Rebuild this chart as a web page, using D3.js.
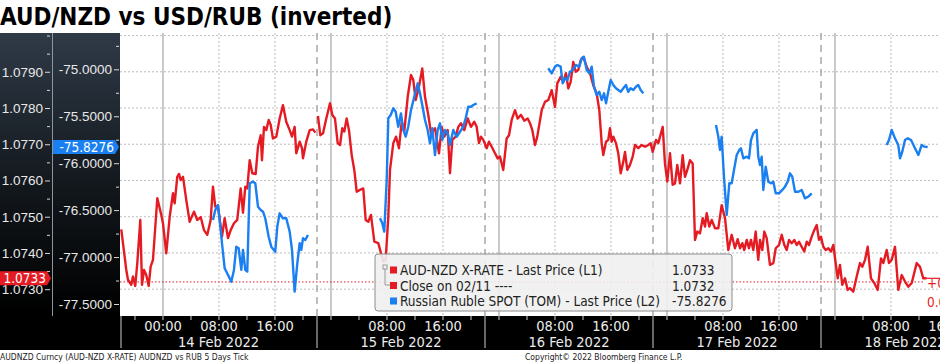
<!DOCTYPE html>
<html>
<head>
<meta charset="utf-8">
<script src="https://cdn.jsdelivr.net/npm/d3@7"></script>
<style>
  body { margin: 0; background: #fff; }
  svg { display: block; font-family: "DejaVu Sans Condensed", "DejaVu Sans", sans-serif; }
</style>
</head>
<body>
<div id="viz"></div>
<script>
const width = 940;
const height = 362;
const margin = {top: 33, right: 0, bottom: 46, left: 120};
const red = '#e51b24';
const blue = '#1a7ff0';

// hours from 14 Feb 2022 00:00, value
const audnzd = [
  [-5.96,1.07465],[-5.24,1.07353],[-5.0,1.07326],[-4.53,1.07312],[-4.29,1.07335],[-3.96,1.07309],[-3.67,1.07372],[-3.24,1.07491],[-3.0,1.07312],[-2.71,1.07353],[-2.39,1.07339],[-2.04,1.07309],[-1.76,1.07362],[-1.43,1.07381],[-0.81,1.07551],[-0.24,1.07505],[0,1.07482],[0.47,1.07399],[0.96,1.07500],[1.43,1.07565],[1.67,1.07537],[2.04,1.07610],[2.29,1.07618],[2.53,1.07601],[2.86,1.07610],[3.33,1.07546],[3.81,1.07486],[4.43,1.07514],[4.9,1.07491],[5.39,1.07499],[5.86,1.07463],[6.33,1.07450],[6.81,1.07491],[7.14,1.07583],[7.47,1.07528],[7.86,1.07528],[8.43,1.07445],[8.81,1.07496],[9.29,1.07441],[9.67,1.07463],[10.14,1.07482],[10.61,1.07491],[11.1,1.07578],[11.43,1.07511],[11.76,1.07583],[12.04,1.07578],[12.39,1.07656],[12.76,1.07620],[13.24,1.07618],[13.57,1.07693],[13.96,1.07725],[14.14,1.07656],[14.43,1.07748],[14.76,1.07739],[15.1,1.07767],[15.39,1.07753],[15.71,1.07716],[16.19,1.07721],[16.67,1.07771],[17.14,1.07808],[17.61,1.07762],[18.1,1.07739],[18.43,1.07721],[18.81,1.07748],[19.04,1.07675],[19.53,1.07707],[19.86,1.07689],[20,1.07661],[20.47,1.07707],[20.96,1.07739],[21.43,1.07741],[21.76,1.07732],
  null,
  [22.14,1.07778],[22.47,1.07725],[22.86,1.07730],[23.33,1.07771],[23.86,1.07813],[24.19,1.07781],[24.57,1.07771],[24.96,1.07703],[25.29,1.07698],[25.61,1.07744],[25.9,1.07735],[26.24,1.07771],[26.57,1.07739],[26.96,1.07670],[27.33,1.07629],[27.67,1.07569],[28.14,1.07574],[28.61,1.07578],[28.96,1.07491],[29.33,1.07486],[29.71,1.07505],[30.19,1.07431],[30.76,1.07427],[31.14,1.07399],[31.47,1.07376],[31.81,1.07381],[32.19,1.07500],[32.43,1.07629],[32.9,1.07703],[33.29,1.07721],[33.71,1.07689],[34.1,1.07762],[34.47,1.07735],[34.96,1.07831],[35.43,1.07891],[35.76,1.07877],[36.1,1.07822],[36.57,1.07859],[37.04,1.07909],[37.43,1.07831],[37.9,1.07781],[38.29,1.07730],[38.86,1.07744],[39.43,1.07675],[39.81,1.07748],[40.19,1.07721],[40.67,1.07739],[41,1.07620],[41.33,1.07712],[41.81,1.07721],[42.19,1.07748],[42.57,1.07758],[43.04,1.07739],[43.53,1.07771],[44,1.07748],[44.47,1.07762],[44.81,1.07748],[45.14,1.07703],[45.43,1.07721],[45.76,1.07712],[46.24,1.07689],[46.57,1.07707],[46.96,1.07693],[47.43,1.07675],[47.81,1.07661],[48.14,1.07666],[48.61,1.07629],[49.1,1.07716],[49.43,1.07725],[49.81,1.07767],[50.29,1.07794],[50.67,1.07771],[51.14,1.07781],[51.61,1.07765],[52.1,1.07771],[52.43,1.07758],[52.76,1.07739],[53.14,1.07698],[53.47,1.07721],[54.1,1.07794],[54.57,1.07817],[55.04,1.07822],[55.53,1.07849],[56,1.07803],[56.33,1.07868],[56.81,1.07886],[57.19,1.07872],[57.57,1.07896],[57.9,1.07854],[58.24,1.07872],[58.61,1.07927],[58.96,1.07900],[59.33,1.07905],[59.67,1.07932],[60.04,1.07941],[60.53,1.07914],[61,1.07896],[61.47,1.07863],[61.96,1.07840],[62.33,1.07794],[62.67,1.07703],[62.9,1.07670],[63.29,1.07707],[63.61,1.07712],[63.86,1.07744],[64.1,1.07707],[64.33,1.07721],[64.71,1.07703],[65.04,1.07675],[65.39,1.07620],[65.76,1.07652],[66,1.07679],[66.33,1.07629],[66.71,1.07643],[67.1,1.07666],[67.43,1.07698],[67.9,1.07689],[68.39,1.07698],[68.86,1.07693],[69.33,1.07698],[69.67,1.07703],[69.96,1.07679],[70.43,1.07712],[70.76,1.07703],[71.39,1.07748],[71.71,1.07647],[72.04,1.07597],[72.43,1.07675],[72.81,1.07588],[73.14,1.07592],[73.47,1.07643],[73.86,1.07592],[74.24,1.07670],[74.57,1.07610],[74.9,1.07629],[75.29,1.07656],[75.67,1.07647],[76,1.07436],[76.33,1.07459],[76.71,1.07454],[77.1,1.07496],[77.43,1.07473],[77.67,1.07510],[78.04,1.07473],[78.39,1.07491],[78.86,1.07468],[79.33,1.07468],[79.81,1.07532],[80.29,1.07496],[80.76,1.07408],[81.24,1.07450],[81.71,1.07413],[82.1,1.07438],[82.43,1.07413],[82.76,1.07427],[83.04,1.07408],[83.39,1.07436],[83.71,1.07413],[84,1.07436],[84.33,1.07408],[84.67,1.07459],[85.04,1.07381],[85.29,1.07436],[85.61,1.07408],[85.9,1.07459],[86.24,1.07441],[86.71,1.07367],[87.19,1.07372],[87.53,1.07413],[88,1.07422],[88.39,1.07450],[88.76,1.07422],[89.1,1.07408],[89.43,1.07436],[89.81,1.07427],[90.19,1.07436],[90.53,1.07422],[90.86,1.07431],[91.24,1.07417],[91.61,1.07404],[91.96,1.07431],[92.29,1.07422],[92.67,1.07445],[93.04,1.07463],[93.39,1.07477],[93.71,1.07436],[94,1.07445],[94.33,1.07417],[94.67,1.07408],[95.04,1.07413],[95.43,1.07404],[95.76,1.07422],[96.1,1.07372],[96.39,1.07330],[96.71,1.07367],[97.04,1.07312],[97.43,1.07330],[97.81,1.07298],[98.14,1.07303],[98.61,1.07293],[99.1,1.07335],[99.57,1.07372],[99.9,1.07362],[100.29,1.07381],[100.67,1.07417],[101.14,1.07330],[101.61,1.07317],[102.1,1.07298],[102.57,1.07385],[102.9,1.07372],[103.39,1.07408],[103.71,1.07372],[104.1,1.07381],[104.57,1.07417],[105.04,1.07298],[105.53,1.07339],[106,1.07321],[106.47,1.07307],[106.96,1.07317],[107.67,1.07372],[108.14,1.07362],[108.61,1.07330],[109.1,1.07330]
];

const usdrub = [
  [7.14,-76.605],[7.47,-76.498],[7.86,-76.445],[8.1,-76.605],[8.43,-76.853],[8.81,-77.119],[9.29,-77.191],[9.76,-77.262],[10.14,-77.137],[10.47,-76.889],[10.81,-76.906],[11.19,-77.137],[11.43,-76.924],[11.76,-77.137],[12.04,-77.155],[12.39,-76.214],[12.86,-76.197],[13.19,-76.214],[13.57,-76.463],[13.96,-76.498],[14.29,-76.517],[14.61,-76.587],[15.1,-76.783],[15.47,-76.889],[16.04,-76.943],[16.33,-76.676],[16.67,-76.534],[17.14,-76.587],[17.61,-76.587],[18.1,-76.729],[18.43,-76.924],[18.81,-77.368],[19.19,-77.066],[19.53,-76.853],[19.76,-76.924],[20,-76.800],[20.33,-76.818],[20.71,-76.765],
  null,
  [31,-76.587],[31.33,-76.640],[31.61,-76.729],[31.96,-76.179],[32.19,-75.522],[32.53,-75.487],[32.9,-75.415],[33.24,-75.452],[33.61,-75.611],[34,-75.469],[34.33,-75.646],[34.67,-75.718],[35.04,-75.611],[35.43,-75.433],[35.9,-75.292],[36.39,-75.149],[36.71,-75.256],[37.04,-75.380],[37.43,-75.540],[37.81,-75.646],[38.14,-75.788],[38.47,-75.628],[38.86,-75.913],[39.24,-75.646],[39.57,-75.575],[39.9,-75.753],[40.29,-75.646],[40.67,-75.682],[41,-75.806],[41.47,-75.646],[41.96,-75.718],[42.43,-75.665],[42.9,-75.611],[43.24,-75.522],[43.61,-75.398],[44,-75.398],[44.33,-75.380],[44.81,-75.362],
  null,
  [55.04,-74.989],[55.53,-75.043],[56,-74.972],[56.33,-74.954],[56.81,-74.972],[57.1,-75.149],[57.43,-75.096],[57.76,-75.114],[58.14,-75.026],[58.53,-75.007],[59,-74.954],[59.47,-74.972],[59.81,-74.883],[60.14,-74.866],[60.53,-75.007],[60.9,-75.043],[61.24,-74.972],[61.57,-75.185],[61.96,-75.274],[62.33,-75.239],[62.67,-75.327],[63,-75.256],[63.29,-75.362],[63.61,-75.239],[63.96,-75.114],[64.33,-75.167],[64.71,-75.202],[65.04,-75.220],[65.39,-75.239],[65.76,-75.202],[66.14,-75.167],[66.47,-75.239],[66.81,-75.202],[67.19,-75.220],[67.57,-75.185],[67.9,-75.167],[68.24,-75.220],[68.61,-75.256],
  null,
  [79,-75.593],[79.33,-75.718],[79.57,-75.859],[79.81,-75.718],[80.14,-76.144],[80.53,-76.552],[80.9,-76.214],[81.24,-76.214],[81.57,-76.072],[81.96,-75.913],[82.33,-75.859],[82.57,-75.841],[82.9,-75.948],[83.39,-75.931],[83.71,-75.948],[84,-75.753],[84.33,-75.682],[84.81,-75.646],[85.04,-75.931],[85.29,-76.019],[85.53,-75.931],[85.76,-76.285],[86.1,-76.037],[86.47,-76.197],[86.86,-76.214],[87.19,-76.197],[87.53,-76.321],[88,-76.321],[88.47,-76.285],[88.86,-76.250],[89.24,-76.197],[89.57,-76.108],[89.9,-76.144],[90.29,-76.304],[90.76,-76.304],[91.24,-76.285],[91.71,-76.374],[92.19,-76.357],[92.67,-76.321],
  null,
  [103.39,-75.806],[103.71,-75.753],[104.1,-75.646],[104.57,-75.735],[105.04,-75.806],[105.29,-75.948],[105.61,-75.878],[106,-75.753],[106.39,-75.735],[106.86,-75.753],[107.33,-75.824],[107.9,-75.913],[108.39,-75.806],[108.76,-75.824],[109.24,-75.8276]
];

const closeValue = 1.0732;
const lastAud = 1.0733;
const lastRub = -75.8276;
const changeLabels = ['+0.0001', '0.01%'];

const l1Ticks = [1.0730, 1.0740, 1.0750, 1.0760, 1.0770, 1.0780, 1.0790];
const l1Minor = [1.0735, 1.0745, 1.0755, 1.0765, 1.0775, 1.0785, 1.0795, 1.0800];
const l2Ticks = [-77.5, -77.0, -76.5, -76.0, -75.5, -75.0];
const l2Minor = [-77.25, -76.75, -76.25, -75.75, -75.25, -74.75];

const timeTicks = ['2022-02-14T00:00', '2022-02-14T08:00', '2022-02-14T16:00', '2022-02-15T08:00', '2022-02-15T16:00',
  '2022-02-16T08:00', '2022-02-16T16:00', '2022-02-17T08:00', '2022-02-17T16:00', '2022-02-18T08:00', '2022-02-18T16:00'];
const midnights = ['2022-02-14T00:00', '2022-02-15T00:00', '2022-02-16T00:00', '2022-02-17T00:00', '2022-02-18T00:00'];
const sessionBreaks = ['2022-02-14T22:00', '2022-02-15T22:00', '2022-02-16T22:00', '2022-02-17T22:00'];
const dayLabels = ['14 Feb 2022', '15 Feb 2022', '16 Feb 2022', '17 Feb 2022', '18 Feb 2022'];

const legendRows = [
  {name: 'AUD-NZD X-RATE - Last Price (L1)', value: lastAud, color: red},
  {name: 'Close on 02/11 ----', value: closeValue, color: red},
  {name: 'Russian Ruble SPOT (TOM) - Last Price (L2)', value: lastRub, color: blue}
];

const parse = d3.utcParse('%Y-%m-%dT%H:%M');
const base = Date.UTC(2022, 1, 14);
const toDate = h => new Date(base + h * 3600e3);
const fmt = d3.formatLocale({decimal: '.', thousands: ',', grouping: [3], currency: ['', ''], minus: '-'}).format('.4f');

const plotBottom = height - margin.bottom;

const x = d3.scaleUtc()
  .domain([toDate(-6.14), toDate(111)])
  .range([margin.left, width - margin.right]);

const yL1 = d3.scaleLinear()
  .domain([1.07226, 1.08007])
  .range([plotBottom, margin.top]);

const yL2 = d3.scaleLinear()
  .domain([-77.628, -74.613])
  .range([plotBottom, margin.top]);

const svg = d3.select('#viz')
  .append('svg')
    .attr('width', width)
    .attr('height', height)
    .attr('viewBox', [0, 0, width, height]);

const defs = svg.append('defs');
const grad = defs.append('linearGradient')
  .attr('id', 'panel')
  .attr('x1', 0).attr('x2', 0).attr('y1', 0).attr('y2', 1);
grad.append('stop').attr('offset', '0%').attr('stop-color', '#2f3a47');
grad.append('stop').attr('offset', '55%').attr('stop-color', '#12171c');
grad.append('stop').attr('offset', '100%').attr('stop-color', '#000');

defs.append('clipPath').attr('id', 'plotclip')
  .append('rect')
    .attr('x', margin.left).attr('y', margin.top)
    .attr('width', width - margin.left).attr('height', plotBottom - margin.top);

// title
svg.append('text')
  .attr('x', 0)
  .attr('y', 25)
  .attr('font-weight', 'bold')
  .attr('font-size', 24)
  .attr('fill', '#000')
  .text('AUD/NZD vs USD/RUB (inverted)');

// axis panels and bottom band
svg.append('rect')
  .attr('x', 0).attr('y', margin.top)
  .attr('width', margin.left).attr('height', plotBottom - margin.top)
  .attr('fill', 'url(#panel)');

svg.append('line')
  .attr('x1', 52.5).attr('x2', 52.5)
  .attr('y1', margin.top).attr('y2', plotBottom)
  .attr('stroke', '#8d959e');

svg.append('rect')
  .attr('x', 0).attr('y', plotBottom)
  .attr('width', width).attr('height', 34)
  .attr('fill', '#000');

// grid
const grid = svg.append('g').attr('clip-path', 'url(#plotclip)');

grid.selectAll('.hgrid')
  .data(l1Ticks.concat([1.0800]))
  .join('line')
    .attr('class', 'hgrid')
    .attr('x1', margin.left).attr('x2', width)
    .attr('y1', d => yL1(d)).attr('y2', d => yL1(d))
    .attr('stroke', '#bdbdbd')
    .attr('stroke-dasharray', '2,2');

const gridTimes = timeTicks.filter(t => !t.endsWith('T00:00'));
grid.selectAll('.vgrid')
  .data(gridTimes)
  .join('line')
    .attr('class', 'vgrid')
    .attr('x1', d => x(parse(d))).attr('x2', d => x(parse(d)))
    .attr('y1', margin.top).attr('y2', plotBottom)
    .attr('stroke', '#bdbdbd')
    .attr('stroke-dasharray', '2,2');

grid.selectAll('.midnight')
  .data(midnights)
  .join('line')
    .attr('class', 'midnight')
    .attr('x1', d => x(parse(d))).attr('x2', d => x(parse(d)))
    .attr('y1', margin.top).attr('y2', plotBottom)
    .attr('stroke', '#b8b8b8')
    .attr('stroke-width', 1.5);

grid.selectAll('.session')
  .data(sessionBreaks)
  .join('line')
    .attr('class', 'session')
    .attr('x1', d => x(parse(d))).attr('x2', d => x(parse(d)))
    .attr('y1', margin.top).attr('y2', plotBottom)
    .attr('stroke', '#a8a8a8')
    .attr('stroke-width', 1.5)
    .attr('stroke-dasharray', '7,5');

// close line
grid.append('line')
  .attr('x1', margin.left).attr('x2', 925)
  .attr('y1', yL1(closeValue)).attr('y2', yL1(closeValue))
  .attr('stroke', red)
  .attr('stroke-dasharray', '1.5,2');

// series
const lineL1 = d3.line()
  .defined(d => d)
  .x(d => x(toDate(d[0])))
  .y(d => yL1(d[1]));

const lineL2 = d3.line()
  .defined(d => d)
  .x(d => x(toDate(d[0])))
  .y(d => yL2(d[1]));

const lastRed = audnzd[audnzd.length - 1];
grid.append('line')
  .attr('x1', x(toDate(lastRed[0]))).attr('x2', width)
  .attr('y1', yL1(lastAud)).attr('y2', yL1(lastAud))
  .attr('stroke', red)
  .attr('stroke-width', 1.2);

grid.append('path')
  .attr('d', lineL1(audnzd))
  .attr('fill', 'none')
  .attr('stroke', red)
  .attr('stroke-width', 2.4)
  .attr('stroke-linejoin', 'round');

grid.append('path')
  .attr('d', lineL2(usdrub))
  .attr('fill', 'none')
  .attr('stroke', blue)
  .attr('stroke-width', 2.4)
  .attr('stroke-linejoin', 'round');

grid.selectAll('.chg')
  .data(changeLabels)
  .join('text')
    .attr('class', 'chg')
    .attr('x', 927)
    .attr('y', (d, i) => 288 + i * 19)
    .attr('font-size', 13.5)
    .attr('fill', red)
    .text(d => d);

// left axes
const styleAxis = g => {
  g.select('.domain').remove();
  g.selectAll('.tick line').attr('stroke', '#d8d8d8');
  g.selectAll('.tick text').attr('fill', '#e8e8e8').attr('font-size', 13.5);
};

svg.append('g')
  .attr('transform', 'translate(50,0)')
  .call(d3.axisLeft(yL1).tickValues(l1Ticks).tickFormat(fmt).tickSize(5).tickPadding(2))
  .call(styleAxis);

svg.append('g')
  .attr('transform', 'translate(50,0)')
  .call(d3.axisLeft(yL1).tickValues(l1Minor).tickFormat('').tickSize(3))
  .call(styleAxis);

svg.append('g')
  .attr('transform', 'translate(119,0)')
  .call(d3.axisLeft(yL2).tickValues(l2Ticks).tickFormat(fmt).tickSize(5).tickPadding(2))
  .call(styleAxis);

svg.append('g')
  .attr('transform', 'translate(119,0)')
  .call(d3.axisLeft(yL2).tickValues(l2Minor).tickFormat('').tickSize(3))
  .call(styleAxis);

// last value flags
const flag = (x0, x1, yc, color, label) => {
  const h = 7;
  svg.append('path')
    .attr('d', `M${x0},${yc - h}H${x1}L${x1 + 4},${yc}L${x1},${yc + h}H${x0}Z`)
    .attr('fill', color);
  svg.append('text')
    .attr('x', x1 - 1)
    .attr('y', yc + 5)
    .attr('text-anchor', 'end')
    .attr('font-size', 13.5)
    .attr('fill', '#fff')
    .text(label);
};
flag(0, 47, yL1(lastAud), red, fmt(lastAud));
flag(53, 115, yL2(lastRub), blue, fmt(lastRub));

// bottom axis
const band = svg.append('g');
const tickHours = d3.range(-4, 113, 4);
band.selectAll('.minor')
  .data(tickHours)
  .join('line')
    .attr('class', 'minor')
    .attr('x1', d => x(toDate(d))).attr('x2', d => x(toDate(d)))
    .attr('y1', plotBottom).attr('y2', plotBottom + 4)
    .attr('stroke', '#cfcfcf');

band.selectAll('.sep')
  .data([margin.left + 1].concat(sessionBreaks.map(d => x(parse(d)))))
  .join('line')
    .attr('class', 'sep')
    .attr('x1', d => d).attr('x2', d => d)
    .attr('y1', plotBottom).attr('y2', plotBottom + 32)
    .attr('stroke', '#8a8a8a')
    .attr('stroke-width', 1.5);

band.selectAll('.tlabel')
  .data(timeTicks)
  .join('text')
    .attr('class', 'tlabel')
    .attr('x', d => x(parse(d)))
    .attr('y', plotBottom + 14.5)
    .attr('text-anchor', 'middle')
    .attr('font-size', 14.5)
    .attr('fill', '#ececec')
    .text(d => d3.utcFormat('%H:%M')(parse(d)));

const bounds = [x.domain()[0]].concat(sessionBreaks.map(parse), [toDate(118)]);
band.selectAll('.dlabel')
  .data(dayLabels)
  .join('text')
    .attr('class', 'dlabel')
    .attr('x', (d, i) => (x(bounds[i]) + x(bounds[i + 1])) / 2)
    .attr('y', plotBottom + 31)
    .attr('text-anchor', 'middle')
    .attr('font-size', 14.5)
    .attr('fill', '#ececec')
    .text(d => d);

// legend
const legend = svg.append('g').attr('transform', 'translate(375,254)');
legend.append('rect')
  .attr('width', 357).attr('height', 57)
  .attr('rx', 3)
  .attr('fill', '#efefef')
  .attr('fill-opacity', 0.9)
  .attr('stroke', '#8c8c8c');

legend.append('rect')
  .attr('x', 8).attr('y', 11).attr('width', 4).attr('height', 4)
  .attr('fill', 'none').attr('stroke', '#999');
legend.append('path')
  .attr('d', 'M10,15V31H15')
  .attr('fill', 'none').attr('stroke', '#999');

const rows = legend.selectAll('.row')
  .data(legendRows)
  .join('g')
    .attr('class', 'row')
    .attr('transform', (d, i) => `translate(0,${21 + i * 15.5})`);

rows.append('rect')
  .attr('x', 15).attr('y', -8.5)
  .attr('width', 7).attr('height', 7)
  .attr('fill', d => d.color);

rows.append('text')
  .attr('x', 25)
  .attr('font-size', 13.5)
  .attr('fill', '#222')
  .text(d => d.name);

rows.append('text')
  .attr('x', 297)
  .attr('font-size', 13.5)
  .attr('fill', '#222')
  .text(d => fmt(d.value));

// footer
svg.append('text')
  .attr('x', 0).attr('y', 359.5)
  .attr('font-size', 8.5)
  .attr('fill', '#222')
  .text('AUDNZD Curncy (AUD-NZD X-RATE) AUDNZD vs RUB 5 Days  Tick');

svg.append('text')
  .attr('x', 525).attr('y', 359.5)
  .attr('font-size', 8.5)
  .attr('fill', '#222')
  .text('Copyright\u00a9 2022 Bloomberg Finance L.P.');
</script>
</body>
</html>
